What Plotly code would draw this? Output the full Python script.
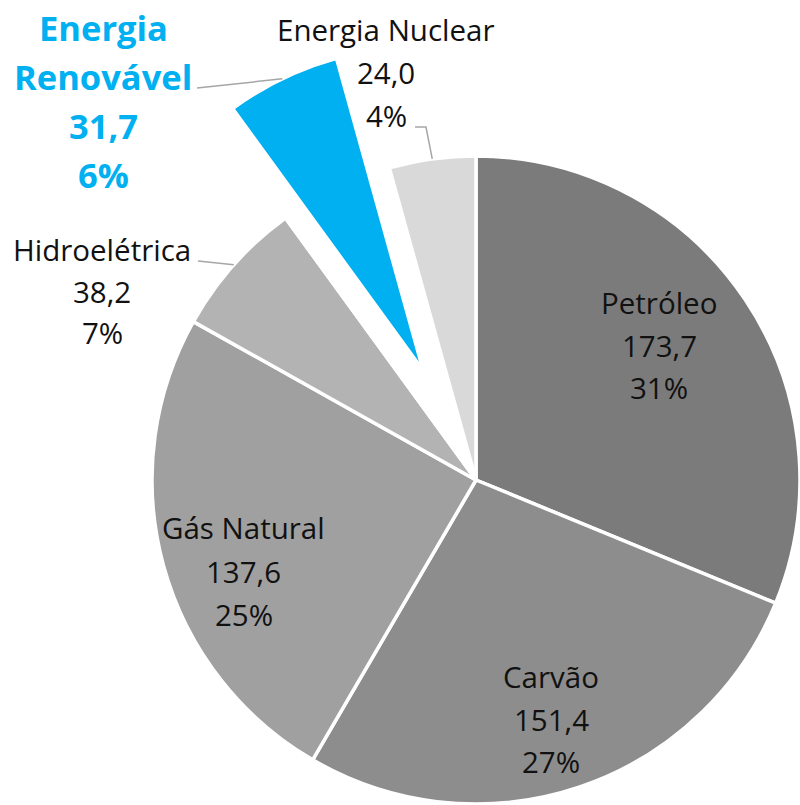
import math
import plotly.graph_objects as go

# ---- data ----
categories = ["Petróleo", "Carvão", "Gás Natural", "Hidroelétrica", "Energia Renovável", "Energia Nuclear"]
values = [173.7, 151.4, 137.6, 38.2, 31.7, 24.0]
colors = ["#7b7b7b", "#8d8d8d", "#a0a0a0", "#b3b3b3", "#00b0f0", "#d9d9d9"]
highlight = "Energia Renovável"

# ---- layout constants (window pixels) ----
W, H = 800, 805
BODY = 0  # page margin removed via post_script
CX, CY, R = 476, 480, 324
PULL = 0.375
FONT = "Open Sans"
TRANSPARENT = "rgba(0,0,0,0)"

total = sum(values)
pct = [f"{round(v / total * 100):.0f}%" for v in values]
val_txt = [f"{v:.1f}".replace(".", ",") for v in values]
hi = categories.index(highlight)

# mid angles (clockwise from 12 o'clock, radians)
mids = []
cum = 0.0
for v in values:
    mids.append((cum + v / 2) / total * 2 * math.pi)
    cum += v


def px2paper(x, y):
    return (x - BODY) / W, 1 - (y - BODY) / H


def edge_point(i, cx=CX, cy=CY, r=R):
    a = mids[i]
    return cx + r * math.sin(a), cy - r * math.cos(a)


def domain_for(cx, cy, r):
    x0, y1 = px2paper(cx - r, cy - r)
    x1, y0 = px2paper(cx + r, cy + r)
    return dict(x=[max(0, x0), min(1, x1)], y=[max(0, y0), min(1, y1)])


# base pie (highlight slice left empty)
base_colors = [TRANSPARENT if i == hi else c for i, c in enumerate(colors)]
fig = go.Figure()
fig.add_trace(go.Pie(
    labels=categories, values=values, sort=False, direction="clockwise", rotation=0,
    marker=dict(colors=base_colors, line=dict(color="white", width=3.5)),
    textinfo="none", hoverinfo="skip", showlegend=False,
    domain=domain_for(CX, CY, R),
))

# exploded slice: same pie, shifted along its mid-angle
pcx, pcy = edge_point(hi, r=PULL * R)
hl_colors = [c if i == hi else TRANSPARENT for i, c in enumerate(colors)]
hl_lines = ["white" if i == hi else TRANSPARENT for i in range(len(values))]
fig.add_trace(go.Pie(
    labels=categories, values=values, sort=False, direction="clockwise", rotation=0,
    marker=dict(colors=hl_colors, line=dict(color=hl_lines, width=3.5)),
    textinfo="none", hoverinfo="skip", showlegend=False,
    domain=domain_for(pcx, pcy, R),
))

# ---- labels ----
label_pos = {
    "Petróleo": (659, 313, 42.5),
    "Carvão": (551, 687, 42.5),
    "Gás Natural": (243.5, 538, 43.5),
    "Hidroelétrica": (102, 260, 41.5),
    "Energia Nuclear": (386, 40, 43),
    "Energia Renovável": (103.5, 39, 49),
}

annotations = []
for i, name in enumerate(categories):
    x, base, pitch = label_pos[name]
    if name == highlight:
        lines = ["Energia", "Renovável", val_txt[i], pct[i]]
        size, color, weight = 34.5, "#00b0f0", 700
    else:
        lines = [name, val_txt[i], pct[i]]
        size, color, weight = 29.5, "#111111", 400
    for k, t in enumerate(lines):
        yb = base + k * pitch
        xp, yp = px2paper(x, yb - 0.34 * size)
        annotations.append(dict(
            x=xp, y=yp, xref="paper", yref="paper", xanchor="center", yanchor="middle",
            text=t, showarrow=False,
            font=dict(family=FONT, size=size, color=color, weight=weight),
        ))

# ---- leader lines ----
shapes = []
LINE = dict(color="#a6a6a6", width=1.5)


def path(points):
    pts = [px2paper(x, y) for x, y in points]
    return "M " + " L ".join(f"{a:.5f},{b:.5f}" for a, b in pts)


hx, hy = edge_point(categories.index("Hidroelétrica"))
shapes.append(dict(type="path", xref="paper", yref="paper", path=path([(198, 261), (hx, hy)]), line=LINE))
rx, ry = edge_point(hi, cx=pcx, cy=pcy)
shapes.append(dict(type="path", xref="paper", yref="paper", path=path([(197, 88), (rx, ry)]), line=LINE))
nx, ny = edge_point(categories.index("Energia Nuclear"))
shapes.append(dict(type="path", xref="paper", yref="paper", path=path([(415, 127), (426, 127), (nx, ny)]), line=LINE))

fig.update_layout(
    width=W, height=H, margin=dict(l=0, r=0, t=0, b=0),
    paper_bgcolor="white", plot_bgcolor="white",
    annotations=annotations, shapes=shapes,
)

fig.write_html(
    "out.html",
    config={"displayModeBar": False},
    post_script="document.body.style.margin='0px';",
)
